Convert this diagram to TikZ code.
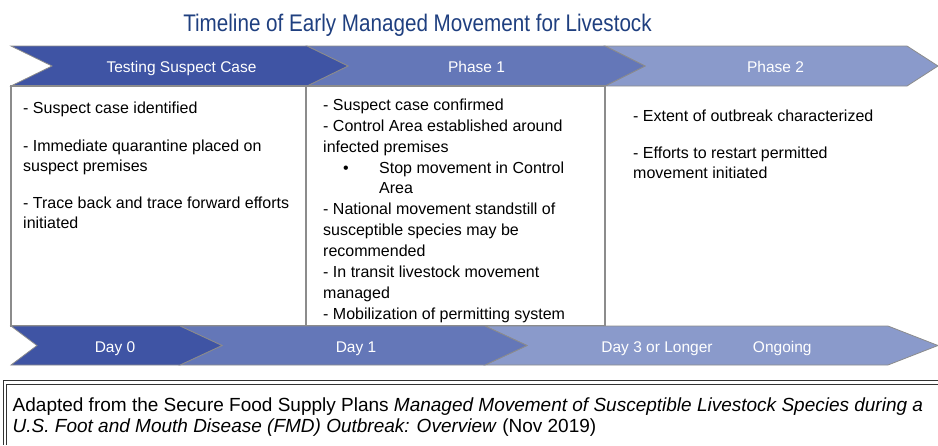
\documentclass[tikz,border=0pt]{standalone}
\usepackage{fontspec}
\setmainfont{Liberation Sans}
\newfontfamily\narrowfont[FakeStretch=0.86]{Liberation Sans}
\usetikzlibrary{positioning}
\definecolor{titleblue}{HTML}{1F3F7F}
\definecolor{chevA}{HTML}{3F54A4}
\definecolor{chevB}{HTML}{6477B8}
\definecolor{chevC}{HTML}{8A9ACB}
\definecolor{edgegrey}{HTML}{8C8C8C}

\begin{document}
\begin{tikzpicture}[x=1pt,y=-1pt,
    chev/.style={draw=edgegrey, line width=0.8pt, line join=miter},
    chevtext/.style={anchor=base, text=white, inner sep=0pt, font=\fontsize{15.5}{18}\selectfont},
    box/.style={draw=edgegrey, line width=1.2pt},
    boxtext/.style={anchor=north west, inner sep=0pt, align=left, font=\fontsize{16}{20}\selectfont},
    frameline/.style={draw=black!80, line width=0.9pt}]
    \useasboundingbox (0,0) rectangle (938,445);

    \node(Title) [anchor=base, text=titleblue, inner sep=0pt, font=\fontsize{24}{27}\narrowfont] at (417.5,31)
        {Timeline of Early Managed Movement for Livestock};

    % phase row
    \draw[chev, fill=chevC] (605,46) -- (907,46) -- (938,66) -- (907,86) -- (605,86) -- (645,66) -- cycle;
    \draw[chev, fill=chevB] (307,46) -- (605,46) -- (645,66) -- (605,86) -- (307,86) -- (348,66) -- cycle;
    \draw[chev, fill=chevA] (11,46) -- (307,46) -- (348,66) -- (307,86) -- (11,86) -- (52,66) -- cycle;
    \node(Testing) [chevtext] at (181.5,72) {Testing Suspect Case};
    \node(PhaseOne) [chevtext] at (476.5,72) {Phase 1};
    \node(PhaseTwo) [chevtext] at (775.5,72) {Phase 2};

    \draw[box] (11,86) rectangle (306,326);
    \draw[box] (306,86) rectangle (605,326);

    \node(TestingList) [boxtext] at (23,101.5)
        {- Suspect case identified\\[18pt]
         - Immediate quarantine placed on\\suspect premises\\[17pt]
         - Trace back and trace forward efforts\\initiated};
    \node(PhaseOneList) [boxtext, font=\fontsize{16}{20.9}\selectfont] at (323,98.5)
        {- Suspect case confirmed\\
         - Control Area established around\\infected premises\\
         \hspace*{20pt}\makebox[36pt][l]{•}Stop movement in Control\\
         \hspace*{56pt}Area\\
         - National movement standstill of\\susceptible species may be\\recommended\\
         - In transit livestock movement\\managed\\
         - Mobilization of permitting system};
    \node(PhaseTwoList) [boxtext] at (633,109.5)
        {- Extent of outbreak characterized\\[17pt]
         - Efforts to restart permitted\\movement initiated};

    % day row
    \draw[chev, fill=chevC] (485,326) -- (888,326) -- (938,345.5) -- (888,365) -- (485,365) -- (527,345.5) -- cycle;
    \draw[chev, fill=chevB] (180,326) -- (485,326) -- (527,345.5) -- (485,365) -- (180,365) -- (222,345.5) -- cycle;
    \draw[chev, fill=chevA] (11,326) -- (180,326) -- (222,345.5) -- (180,365) -- (11,365) -- (37,345.5) -- cycle;
    \node(DayZero) [chevtext] at (115,352) {Day 0};
    \node(DayOne) [chevtext] at (356,352) {Day 1};
    \node(DayThree) [chevtext] at (657,352) {Day 3 or Longer};
    \node(Ongoing) [chevtext, right=40pt of DayThree.base east, anchor=base west] {Ongoing};

    \draw[frameline] (938,380) -- (3,380) -- (3,445);
    \draw[frameline] (938,384) -- (6,384) -- (6,445);
    \node(Source) [anchor=north west, inner sep=0pt, align=left, font=\fontsize{19}{21}\selectfont] at (12.5,397.5)
        {Adapted from the Secure Food Supply Plans \textit{Managed Movement of Susceptible Livestock Species during a}\\
         \textit{U.S. Foot and Mouth Disease (FMD) Outbreak: Overview} (Nov 2019)};
\end{tikzpicture}
\end{document}
